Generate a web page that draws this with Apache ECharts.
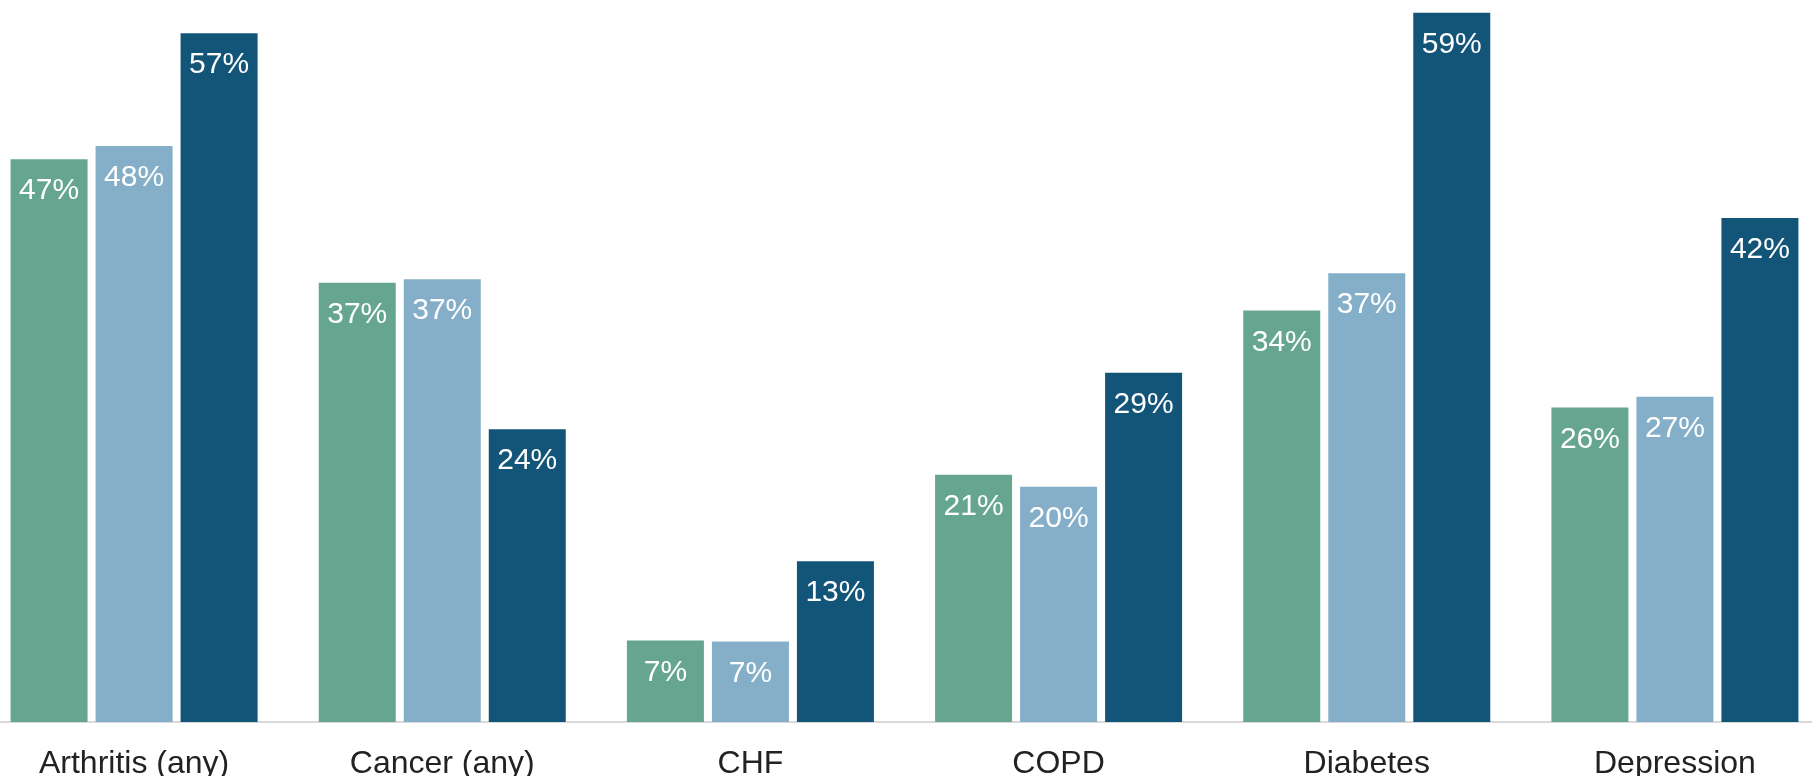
<!DOCTYPE html>
<html>
<head>
<meta charset="utf-8">
<script src="https://cdn.jsdelivr.net/npm/echarts@6/dist/echarts.min.js"></script>
<style>
html,body{margin:0;padding:0;background:#fff;overflow:hidden;width:1812px;height:776px;}
#chart{position:absolute;left:-20px;top:0;width:1849px;height:776px;}
</style>
</head>
<body>
<div id="chart"></div>
<script>
const categories = ['Arthritis (any)', 'Cancer (any)', 'CHF', 'COPD', 'Diabetes', 'Depression'];
const seriesA = [46.9, 36.6, 6.8, 20.6, 34.3, 26.2];
const seriesB = [48.0, 36.9, 6.7, 19.6, 37.4, 27.1];
const seriesC = [57.4, 24.4, 13.4, 29.1, 59.1, 42.0];
const yMax = 60;

const colors = ['#66a690', '#85afc8', '#125579'];

const chart = echarts.init(document.getElementById('chart'));
const font = '"Liberation Sans", Arial, sans-serif';

function mk(data, color) {
  return {
    type: 'bar',
    data: data,
    barWidth: 77,
    barGap: '10.4%',
    itemStyle: { color: color },
    label: {
      show: true,
      position: 'insideTop',
      distance: 17,
      color: '#ffffff',
      fontFamily: font,
      fontSize: 30,
      formatter: p => Math.round(p.value) + '%'
    },
    silent: true
  };
}

chart.setOption({
  animation: false,
  backgroundColor: '#ffffff',
  grid: { left: 0, right: 0, top: 2, bottom: 54, containLabel: false, outerBoundsMode: 'none' },
  xAxis: {
    type: 'category',
    data: categories,
    axisLine: { show: true, lineStyle: { color: '#d9d9d9', width: 2 } },
    axisTick: { show: false },
    axisLabel: { color: '#222222', fontFamily: font, fontSize: 32, margin: 26, interval: 0 }
  },
  yAxis: {
    type: 'value',
    min: 0,
    max: yMax,
    show: false,
    splitLine: { show: false }
  },
  series: [mk(seriesA, colors[0]), mk(seriesB, colors[1]), mk(seriesC, colors[2])]
});
</script>
</body>
</html>
